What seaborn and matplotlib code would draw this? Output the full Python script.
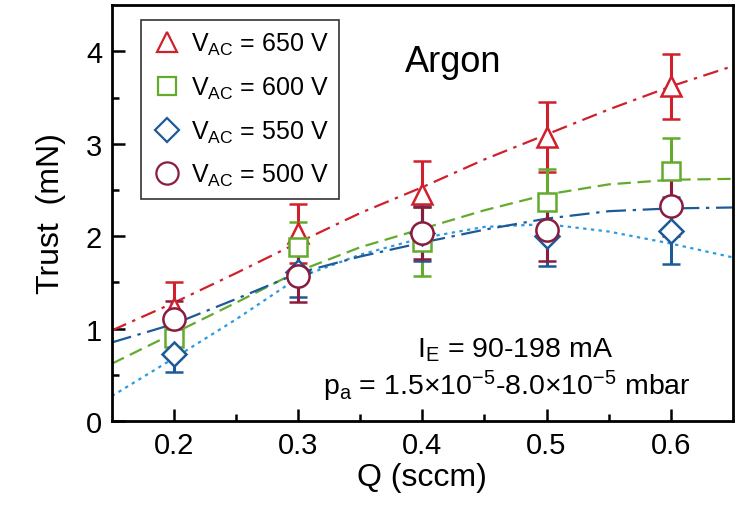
import numpy as np
import pandas as pd
import matplotlib
matplotlib.use('Agg')
import matplotlib.pyplot as plt
from matplotlib.lines import Line2D
import seaborn as sns

# measured thrust (mN) vs flow Q (sccm), with error bars
q = [0.2, 0.3, 0.4, 0.5, 0.6]
labels = ['650', '600', '550', '500']
t650 = [1.22, 2.03, 2.46, 3.07, 3.62]
e650 = [0.28, 0.32, 0.35, 0.38, 0.35]
t600 = [0.90, 1.88, 1.94, 2.37, 2.70]
e600 = [0.20, 0.27, 0.37, 0.36, 0.36]
t550 = [0.73, 1.61, 2.03, 2.00, 2.06]
e550 = [0.20, 0.27, 0.30, 0.32, 0.36]
t500 = [1.10, 1.57, 2.03, 2.07, 2.33]
e500 = [0.20, 0.28, 0.28, 0.34, 0.33]

# fit curves
qfit = [0.15, 0.20, 0.25, 0.30, 0.35, 0.40, 0.45, 0.50, 0.55, 0.60, 0.65]
f650 = [0.98, 1.28, 1.60, 1.93, 2.25, 2.53, 2.83, 3.10, 3.37, 3.62, 3.84]
f600 = [0.62, 0.95, 1.28, 1.62, 1.88, 2.08, 2.28, 2.45, 2.56, 2.61, 2.62]
f550 = [0.27, 0.68, 1.10, 1.55, 1.80, 1.98, 2.10, 2.13, 2.05, 1.92, 1.77]
f500 = [0.85, 1.05, 1.32, 1.60, 1.78, 1.93, 2.07, 2.19, 2.27, 2.30, 2.31]

sns.set_theme(style='ticks')
plt.rcParams['font.family'] = ['Liberation Sans', 'DejaVu Sans']
plt.rcParams['mathtext.fontset'] = 'custom'
plt.rcParams['mathtext.rm'] = 'Liberation Sans'
plt.rcParams['mathtext.it'] = 'Liberation Sans'
plt.rcParams['text.color'] = 'black'
plt.rcParams['axes.labelcolor'] = 'black'
plt.rcParams['xtick.color'] = 'black'
plt.rcParams['ytick.color'] = 'black'

red, green, dblue, lblue, wine = '#d0202c', '#64aa2c', '#1d5a97', '#2b9be0', '#8a1c3e'

fig = plt.figure(figsize=(7.41, 5.06), dpi=100)
ax = fig.add_axes([0.151, 0.166, 0.838, 0.822])

fits = pd.DataFrame({'Q': qfit * 4,
                     'T': f650 + f600 + f550 + f500,
                     'V': sum([[v] * len(qfit) for v in labels], [])})
styles = {'650': (red, (0, (7, 3, 1.5, 3))), '600': (green, (0, (6, 3))),
          '550': (lblue, (0, (1.5, 2))), '500': (dblue, (0, (9, 3, 1.5, 3)))}
for v in labels:
    col, ls = styles[v]
    sns.lineplot(data=fits[fits['V'] == v], x='Q', y='T', color=col, lw=1.6,
                 linestyle=ls, ax=ax, zorder=2)

series = [(t650, e650, red, '^', 15), (t600, e600, green, 's', 13),
          (t550, e550, dblue, 'D', 12), (t500, e500, wine, 'o', 16)]
handles = []
for (t, e, col, m, ms), v in zip(series, labels):
    ax.errorbar(q, t, yerr=e, fmt=m, color=col, mfc='white', mec=col, mew=1.8,
                ms=ms, elinewidth=2.2, capsize=6.5, capthick=2.2, zorder=3)
    handles.append(Line2D([], [], ls='none', marker=m, color=col, mfc='white',
                          mew=1.6, ms=ms,
                          label=r'V$_{\mathrm{AC}}$ = ' + v + ' V'))

ax.set_xlim(0.15, 0.65)
ax.set_ylim(0, 4.5)
ax.set_xticks(q)
ax.set_xticks([0.25, 0.35, 0.45, 0.55], minor=True)
ax.set_yticks([0, 1, 2, 3, 4])
ax.set_yticks([0.5, 1.5, 2.5, 3.5], minor=True)
ax.set_xticklabels(['0.2', '0.3', '0.4', '0.5', '0.6'])
ax.tick_params(which='both', direction='in', width=1.8, labelsize=21,
               top=False, right=False)
ax.tick_params(which='major', length=9, pad=7)
ax.tick_params(which='minor', length=5)
for s in ax.spines.values():
    s.set_linewidth(2)
    s.set_color('black')

ax.set_xlabel('Q (sccm)', fontsize=23, labelpad=2)
ax.set_ylabel('Trust  (mN)', fontsize=23, labelpad=14)

ax.text(0.549, 0.865, 'Argon', transform=ax.transAxes, fontsize=26, ha='center', va='center')
ax.text(0.649, 0.172, r'I$_{\mathrm{E}}$ = 90-198 mA', transform=ax.transAxes,
        fontsize=20.5, ha='center', va='center')
ax.text(0.636, 0.086, r'p$_{\mathrm{a}}$ = 1.5×10$^{-5}$-8.0×10$^{-5}$ mbar',
        transform=ax.transAxes, fontsize=20.5, ha='center', va='center')

leg = ax.legend(handles=handles, loc='upper left', bbox_to_anchor=(0.026, 0.995),
                fontsize=18, frameon=True, fancybox=False, edgecolor='black',
                labelspacing=0.7, handletextpad=0.35, borderpad=0.45,
                handlelength=1.2)
leg.get_frame().set_linewidth(1.2)

fig.savefig('out.png', dpi=100)
